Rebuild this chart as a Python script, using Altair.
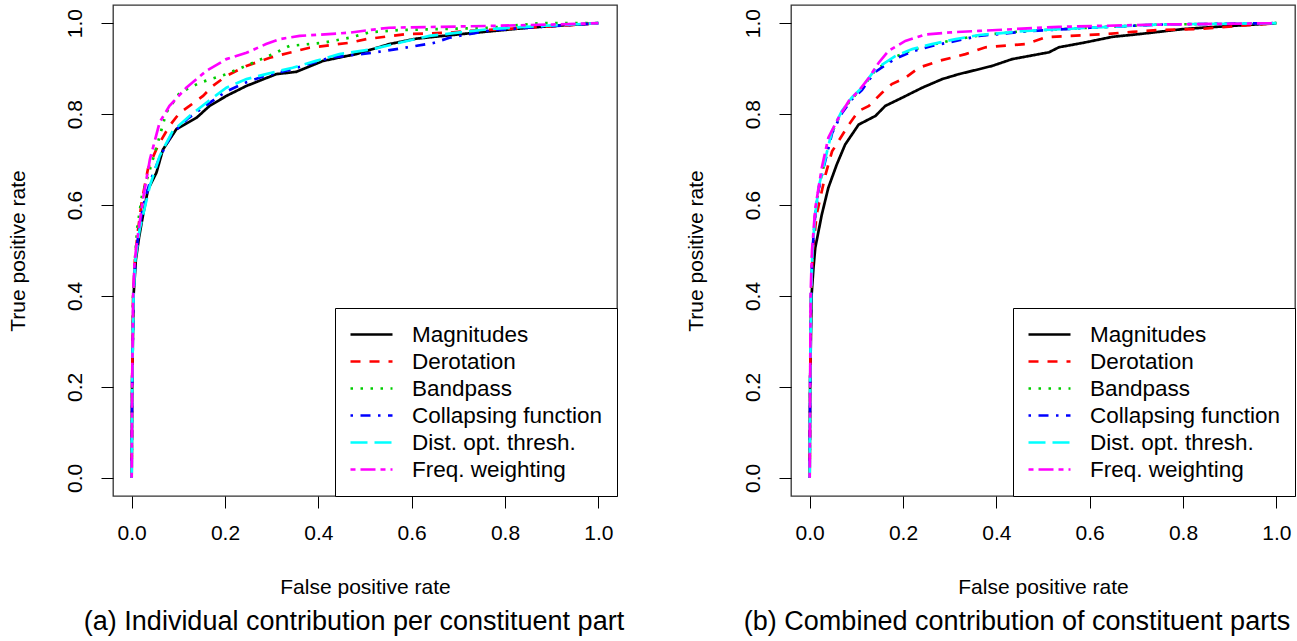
import altair as alt
import pandas as pd

FONT = "Liberation Sans"

series_names = ["Magnitudes", "Derotation", "Bandpass", "Collapsing function",
                "Dist. opt. thresh.", "Freq. weighting"]
series_colors = ["#000000", "#FF0000", "#00CD00", "#0000FF", "#00FFFF", "#FF00FF"]
series_dashes = [[1, 0], [10, 9], [2.5, 7.5], [2.5, 7.5, 10, 7.5], [17, 7], [5, 5, 15, 5]]

tick_values = [0.0, 0.2, 0.4, 0.6, 0.8, 1.0]

# ---- Panel (a): individual contribution per constituent part ----
a_mag_x = [0, 0.001, 0.004, 0.009, 0.016, 0.024, 0.035, 0.053, 0.067, 0.096, 0.139, 0.167, 0.203, 0.246, 0.310, 0.353, 0.41, 0.481, 0.552, 0.61, 0.667, 0.767, 0.85, 0.92, 1.0]
a_mag_y = [0, 0.2, 0.4, 0.48, 0.53, 0.576, 0.634, 0.671, 0.722, 0.767, 0.792, 0.818, 0.840, 0.862, 0.888, 0.893, 0.917, 0.932, 0.954, 0.966, 0.972, 0.982, 0.99, 0.995, 1.0]
a_der_x = [0, 0.001, 0.003, 0.007, 0.013, 0.022, 0.035, 0.056, 0.081, 0.103, 0.124, 0.153, 0.174, 0.203, 0.246, 0.296, 0.338, 0.381, 0.467, 0.503, 0.588, 0.681, 0.724, 0.85, 0.93, 1.0]
a_der_y = [0, 0.2, 0.4, 0.48, 0.54, 0.61, 0.68, 0.730, 0.774, 0.803, 0.818, 0.840, 0.862, 0.884, 0.906, 0.924, 0.935, 0.946, 0.957, 0.965, 0.976, 0.979, 0.983, 0.99, 0.995, 1.0]
a_ban_x = [0, 0.001, 0.003, 0.007, 0.012, 0.022, 0.039, 0.056, 0.074, 0.103, 0.146, 0.203, 0.260, 0.303, 0.338, 0.41, 0.467, 0.51, 0.574, 0.767, 0.874, 1.0]
a_ban_y = [0, 0.2, 0.4, 0.48, 0.55, 0.62, 0.678, 0.737, 0.803, 0.847, 0.869, 0.888, 0.913, 0.932, 0.950, 0.957, 0.968, 0.98, 0.985, 0.99, 1.0, 1.0]
a_col_x = [0, 0.001, 0.004, 0.008, 0.015, 0.025, 0.039, 0.058, 0.085, 0.12, 0.16, 0.203, 0.246, 0.288, 0.338, 0.424, 0.517, 0.574, 0.645, 0.681, 0.767, 0.85, 1.0]
a_col_y = [0, 0.2, 0.4, 0.48, 0.54, 0.60, 0.65, 0.70, 0.755, 0.790, 0.82, 0.85, 0.87, 0.885, 0.897, 0.924, 0.935, 0.944, 0.956, 0.968, 0.984, 0.99, 1.0]
a_dis_x = [0, 0.001, 0.004, 0.008, 0.017, 0.039, 0.060, 0.088, 0.124, 0.160, 0.203, 0.246, 0.288, 0.345, 0.395, 0.445, 0.517, 0.574, 0.638, 0.767, 0.88, 1.0]
a_dis_y = [0, 0.2, 0.4, 0.48, 0.546, 0.642, 0.708, 0.763, 0.796, 0.825, 0.858, 0.877, 0.888, 0.902, 0.917, 0.932, 0.943, 0.957, 0.972, 0.987, 0.994, 1.0]
a_fre_x = [0, 0.001, 0.003, 0.006, 0.010, 0.024, 0.039, 0.060, 0.081, 0.117, 0.160, 0.203, 0.246, 0.288, 0.317, 0.360, 0.467, 0.51, 0.552, 0.767, 0.9, 1.0]
a_fre_y = [0, 0.2, 0.4, 0.47, 0.509, 0.612, 0.700, 0.782, 0.818, 0.858, 0.895, 0.921, 0.935, 0.954, 0.965, 0.972, 0.979, 0.985, 0.99, 0.994, 0.997, 1.0]

# ---- Panel (b): combined contribution of constituent parts ----
b_mag_x = [0, 0.001, 0.004, 0.008, 0.012, 0.026, 0.040, 0.058, 0.076, 0.105, 0.141, 0.162, 0.198, 0.241, 0.284, 0.320, 0.348, 0.391, 0.434, 0.513, 0.534, 0.592, 0.649, 0.706, 0.80, 0.856, 1.0]
b_mag_y = [0, 0.2, 0.4, 0.46, 0.506, 0.579, 0.638, 0.689, 0.733, 0.777, 0.796, 0.818, 0.836, 0.858, 0.877, 0.888, 0.895, 0.906, 0.921, 0.936, 0.947, 0.958, 0.970, 0.976, 0.987, 0.991, 1.0]
b_der_x = [0, 0.001, 0.003, 0.007, 0.015, 0.034, 0.048, 0.062, 0.084, 0.105, 0.127, 0.155, 0.176, 0.205, 0.234, 0.277, 0.334, 0.377, 0.463, 0.506, 0.556, 0.635, 0.692, 0.749, 0.835, 0.878, 1.0]
b_der_y = [0, 0.2, 0.4, 0.5, 0.58, 0.667, 0.718, 0.741, 0.777, 0.807, 0.818, 0.847, 0.866, 0.880, 0.902, 0.917, 0.932, 0.947, 0.954, 0.969, 0.972, 0.976, 0.981, 0.985, 0.987, 0.991, 1.0]
b_ban_x = [0, 0.001, 0.003, 0.006, 0.012, 0.019, 0.034, 0.048, 0.069, 0.090, 0.112, 0.127, 0.141, 0.162, 0.184, 0.220, 0.262, 0.313, 0.363, 0.463, 0.60, 0.749, 1.0]
b_ban_y = [0, 0.2, 0.4, 0.5, 0.58, 0.636, 0.703, 0.760, 0.805, 0.834, 0.856, 0.878, 0.897, 0.911, 0.926, 0.941, 0.953, 0.964, 0.973, 0.983, 0.99, 0.997, 1.0]
b_col_x = [0, 0.001, 0.003, 0.006, 0.012, 0.019, 0.034, 0.048, 0.069, 0.090, 0.112, 0.127, 0.141, 0.162, 0.184, 0.220, 0.262, 0.313, 0.363, 0.463, 0.60, 0.749, 1.0]
b_col_y = [0, 0.2, 0.4, 0.5, 0.58, 0.634, 0.700, 0.758, 0.802, 0.832, 0.853, 0.875, 0.893, 0.908, 0.922, 0.938, 0.950, 0.961, 0.972, 0.982, 0.99, 0.997, 1.0]
b_dis_x = [0, 0.001, 0.003, 0.006, 0.012, 0.019, 0.034, 0.048, 0.069, 0.090, 0.112, 0.127, 0.141, 0.162, 0.184, 0.220, 0.262, 0.313, 0.363, 0.463, 0.60, 0.749, 1.0]
b_dis_y = [0, 0.2, 0.4, 0.5, 0.58, 0.638, 0.704, 0.763, 0.807, 0.836, 0.858, 0.880, 0.899, 0.913, 0.928, 0.943, 0.954, 0.965, 0.974, 0.983, 0.99, 0.997, 1.0]
b_fre_x = [0, 0.001, 0.002, 0.005, 0.012, 0.026, 0.040, 0.062, 0.084, 0.105, 0.127, 0.148, 0.169, 0.205, 0.248, 0.305, 0.363, 0.534, 0.75, 1.0]
b_fre_y = [0, 0.2, 0.4, 0.5, 0.593, 0.682, 0.748, 0.792, 0.829, 0.851, 0.880, 0.913, 0.939, 0.961, 0.975, 0.980, 0.983, 0.992, 0.997, 1.0]

panel_a = [(a_mag_x, a_mag_y), (a_der_x, a_der_y), (a_ban_x, a_ban_y),
           (a_col_x, a_col_y), (a_dis_x, a_dis_y), (a_fre_x, a_fre_y)]
panel_b = [(b_mag_x, b_mag_y), (b_der_x, b_der_y), (b_ban_x, b_ban_y),
           (b_col_x, b_col_y), (b_dis_x, b_dis_y), (b_fre_x, b_fre_y)]


def to_frame(panel):
    rows = []
    for k, (xs, ys) in enumerate(panel):
        for i, (xv, yv) in enumerate(zip(xs, ys)):
            rows.append({"series": series_names[k], "fpr": xv, "tpr": yv, "idx": i})
    return pd.DataFrame(rows)


def make_panel(df, caption, cap_dx):
    x_axis = alt.Axis(values=tick_values, format=".1f", title="False positive rate",
                      domain=False, grid=False, ticks=True, tickSize=12, tickColor="#000000",
                      labelFont=FONT, labelFontSize=21, labelColor="#000000", labelPadding=14,
                      titleFont=FONT, titleFontSize=21, titleFontWeight="normal",
                      titleColor="#000000", titlePadding=33, labelFlush=False)
    y_axis = alt.Axis(values=tick_values, format=".1f", title="True positive rate",
                      domain=False, grid=False, ticks=True, tickSize=12, tickColor="#000000",
                      labelFont=FONT, labelFontSize=21, labelColor="#000000", labelPadding=16,
                      labelAngle=270, labelAlign="center", labelBaseline="bottom",
                      titleFont=FONT, titleFontSize=21, titleFontWeight="normal",
                      titleColor="#000000", titlePadding=36, labelFlush=False)
    legend = alt.Legend(orient="bottom-right", offset=0, title=None, symbolType="stroke",
                        symbolSize=1764, symbolStrokeWidth=2.7, clipHeight=25, rowPadding=2.0,
                        padding=14, labelFont=FONT, labelFontSize=22.5, labelColor="#000000",
                        labelOffset=18, labelLimit=0, strokeColor="#000000", fillColor="#FFFFFF")
    return alt.Chart(df).mark_line(strokeWidth=2.7, clip=True).encode(
        x=alt.X("fpr:Q", scale=alt.Scale(domain=[-0.04, 1.04], nice=False, zero=False), axis=x_axis),
        y=alt.Y("tpr:Q", scale=alt.Scale(domain=[-0.04, 1.04], nice=False, zero=False), axis=y_axis),
        color=alt.Color("series:N", scale=alt.Scale(domain=series_names, range=series_colors),
                        legend=legend, sort=series_names),
        strokeDash=alt.StrokeDash("series:N", scale=alt.Scale(domain=series_names, range=series_dashes),
                                  legend=legend, sort=series_names),
        order="idx:Q",
    ).properties(
        width=504, height=491,
        title=alt.TitleParams(caption, orient="bottom", font=FONT, fontSize=27,
                              fontWeight="normal", color="#000000", offset=12, dx=cap_dx),
    )


left = make_panel(to_frame(panel_a), "(a)  Individual contribution per constituent part", -11)
right = make_panel(to_frame(panel_b), "(b)  Combined contribution of constituent parts", -26)

chart = alt.hconcat(left, right, spacing=55).resolve_scale(
    color="independent", strokeDash="independent"
).resolve_legend(
    color="independent", strokeDash="independent"
).properties(
    padding={"left": 6, "top": 4, "right": 0, "bottom": 0},
    background="#FFFFFF",
).configure_view(
    stroke="#333333", strokeWidth=1.3
)

chart.save("out.html", embed_options={"renderer": "svg", "actions": False})
